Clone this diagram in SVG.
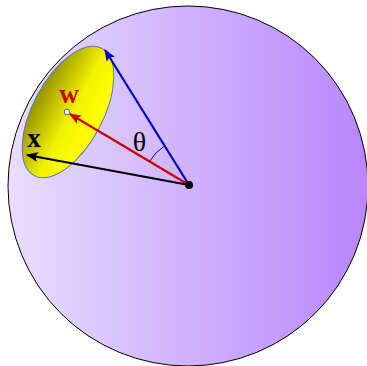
<svg xmlns="http://www.w3.org/2000/svg" width="367" height="366" viewBox="0 0 367 366">
<style>
.lbl{font-family:"Liberation Serif","DejaVu Serif",serif;font-weight:bold;font-size:27px}
.vec{stroke-width:2.2;fill:none}
</style>
<defs>
<linearGradient id="sph" x1="0" y1="0" x2="1" y2="0">
<stop offset="0" stop-color="#e8defe"/>
<stop offset="1" stop-color="#b886fb"/>
</linearGradient>
<linearGradient id="cap" gradientUnits="userSpaceOnUse" x1="68" y1="80" x2="68" y2="140">
<stop offset="0" stop-color="#9c9a00"/>
<stop offset="0.6" stop-color="#f2f200"/>
<stop offset="1" stop-color="#ffff00"/>
</linearGradient>
<marker id="ab" viewBox="0 0 10 8" refX="9" refY="4" markerWidth="5.5" markerHeight="4.4" orient="auto" markerUnits="strokeWidth"><path d="M0,0L10,4L0,8L2,4z" fill="#0000cc"/></marker>
<marker id="ar" viewBox="0 0 10 8" refX="9" refY="4" markerWidth="5.5" markerHeight="4.4" orient="auto" markerUnits="strokeWidth"><path d="M0,0L10,4L0,8L2,4z" fill="#cc0000"/></marker>
<marker id="ak" viewBox="0 0 10 8" refX="9" refY="4" markerWidth="5.5" markerHeight="4.4" orient="auto" markerUnits="strokeWidth"><path d="M0,0L10,4L0,8L2,4z" fill="#000"/></marker>
</defs>
<g id="sphere"><circle cx="188" cy="186" r="180" fill="url(#sph)" stroke="#000" stroke-width="1"/></g>
<g id="capnode"><ellipse cx="68" cy="112" rx="72" ry="35" transform="rotate(-62 68 112)" fill="url(#cap)" stroke="#5a7aa0" stroke-width="1"/></g>
<g id="connectors">
<path class="vec" d="M189,185L105,50" stroke="#0000cc" marker-end="url(#ab)"/>
<path class="vec" d="M189,185L70,114" stroke="#cc0000" marker-end="url(#ar)"/>
<path class="vec" d="M189,185L27,155" stroke="#000" marker-end="url(#ak)"/>
<path d="M149.5,161.4A46,46 0 0 1 164.7,145.9" fill="none" stroke="#0000cc" stroke-width="1"/>
</g>
<g id="origin"><circle cx="189" cy="185" r="4" fill="#000"/></g>
<g id="wpoint"><circle cx="67" cy="112" r="2.8" fill="#fff" stroke="#4a6a90" stroke-width="1"/></g>
<g id="labels">
<text class="lbl" x="69" y="103" fill="#cc0000" text-anchor="middle">w</text>
<text class="lbl" x="34" y="147" fill="#000" text-anchor="middle">x</text>
<text x="139.5" y="151" font-family="'Liberation Serif','DejaVu Serif',serif" font-size="28" fill="#000" text-anchor="middle">θ</text>
</g>
</svg>
